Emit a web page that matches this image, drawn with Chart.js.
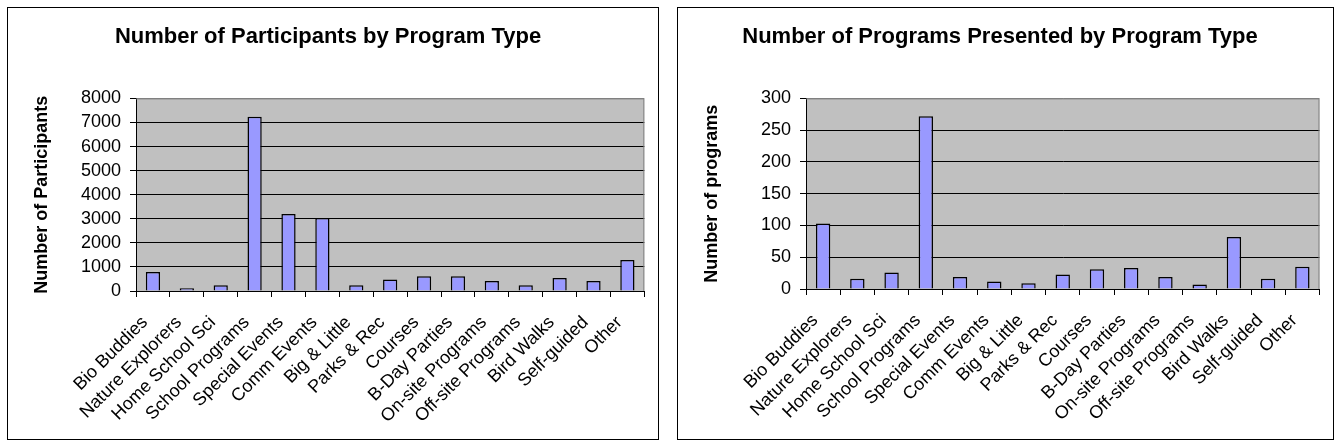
<!DOCTYPE html>
<html>
<head>
<meta charset="UTF-8">
<title>Program Type Charts</title>
<script src="https://cdn.jsdelivr.net/npm/chart.js@4.4.0/dist/chart.umd.min.js"></script>
<style type="text/css">
    body { margin: 0; background: #fff; }
    .panel {
        position: absolute;
        top: 7px;
        height: 431px;
        border: 1px solid #000;
        background: #fff;
    }
    #leftPanel { left: 7px; width: 650px; }
    #rightPanel { left: 677px; width: 655px; }
</style>
</head>
<body>

<div class="panel" id="leftPanel"><canvas id="participantsChart" width="650" height="431"></canvas></div>
<div class="panel" id="rightPanel"><canvas id="programsChart" width="655" height="431"></canvas></div>

<script>
    const programTypes = ['Bio Buddies', 'Nature Explorers', 'Home School Sci', 'School Programs',
        'Special Events', 'Comm Events', 'Big & Little', 'Parks & Rec', 'Courses', 'B-Day Parties',
        'On-site Programs', 'Off-site Programs', 'Bird Walks', 'Self-guided', 'Other'];

    const participants = [790, 110, 235, 7240, 3200, 3030, 235, 480, 610, 610, 415, 235, 540, 415, 1285];
    const programsPresented = [103, 16, 26, 272, 19, 12, 9, 23, 31, 33, 19, 7, 82, 16, 35];

    const participantTicks = { min: 0, max: 8000, step: 1000 };
    const programTicks = { min: 0, max: 300, step: 50 };

    const FONT = "'Liberation Sans', Arial, sans-serif";

    // grey plot background + grey frame on top/right like the old Excel charts
    const plotFrame = {
        id: 'plotFrame',
        beforeDraw(chart) {
            const a = chart.chartArea;
            const ctx = chart.ctx;
            ctx.save();
            ctx.fillStyle = '#C0C0C0';
            ctx.fillRect(a.left, a.top, a.right - a.left, a.bottom - a.top);
            ctx.restore();
        },
        beforeDatasetsDraw(chart) {
            const a = chart.chartArea;
            const ctx = chart.ctx;
            ctx.save();
            ctx.strokeStyle = '#808080';
            ctx.lineWidth = 1;
            ctx.beginPath();
            ctx.moveTo(a.left, a.top + 0.5);
            ctx.lineTo(a.right - 0.5, a.top + 0.5);
            ctx.lineTo(a.right - 0.5, a.bottom);
            ctx.stroke();
            ctx.restore();
        }
    };

    function makeChart(canvasId, title, yTitle, values, ticks, rightPad, bottomSpace) {
        return new Chart(document.getElementById(canvasId), {
            type: 'bar',
            data: {
                labels: programTypes,
                datasets: [{
                    data: values,
                    backgroundColor: '#9999FF',
                    borderColor: '#000000',
                    borderWidth: 1.5,
                    barPercentage: 0.42,
                    categoryPercentage: 1.0
                }]
            },
            options: {
                responsive: false,
                animation: false,
                layout: { padding: { top: 0, right: rightPad, bottom: 0, left: 0 } },
                plugins: {
                    legend: { display: false },
                    tooltip: { enabled: false },
                    title: {
                        display: true,
                        text: title,
                        color: '#000',
                        font: { family: FONT, size: 22, weight: 'bold' },
                        padding: { top: 16, bottom: 48 }
                    }
                },
                scales: {
                    x: {
                        grid: {
                            offset: true,
                            drawOnChartArea: false,
                            drawTicks: true,
                            tickLength: 6,
                            tickColor: '#000'
                        },
                        border: { color: '#000', width: 1 },
                        ticks: {
                            color: '#000',
                            font: { family: FONT, size: 18 },
                            minRotation: 45,
                            maxRotation: 45,
                            autoSkip: false,
                            padding: 15,
                            labelOffset: -8
                        },
                        afterFit(scale) { scale.height = bottomSpace; }
                    },
                    y: {
                        min: ticks.min,
                        max: ticks.max,
                        grid: {
                            color: ctx => (ctx.tick && ctx.tick.value === ticks.max) ? '#808080' : '#000',
                            tickColor: '#000',
                            tickLength: 6
                        },
                        border: { color: '#000', width: 1 },
                        ticks: {
                            stepSize: ticks.step,
                            autoSkip: false,
                            color: '#000',
                            padding: 9,
                            font: { family: FONT, size: 18 },
                            callback: v => String(v)
                        },
                        title: {
                            display: true,
                            text: yTitle,
                            color: '#000',
                            font: { family: FONT, size: 18, weight: 'bold' },
                            padding: { top: 23, bottom: 0 }
                        },
                        afterFit(scale) { scale.width = 128; }
                    }
                }
            },
            plugins: [plotFrame]
        });
    }

    makeChart('participantsChart', 'Number of Participants by Program Type', 'Number of Participants',
        participants, participantTicks, 10, 148);
    makeChart('programsChart', 'Number of Programs Presented by Program Type', 'Number of programs',
        programsPresented, programTicks, 11, 150);
</script>
</body>
</html>
